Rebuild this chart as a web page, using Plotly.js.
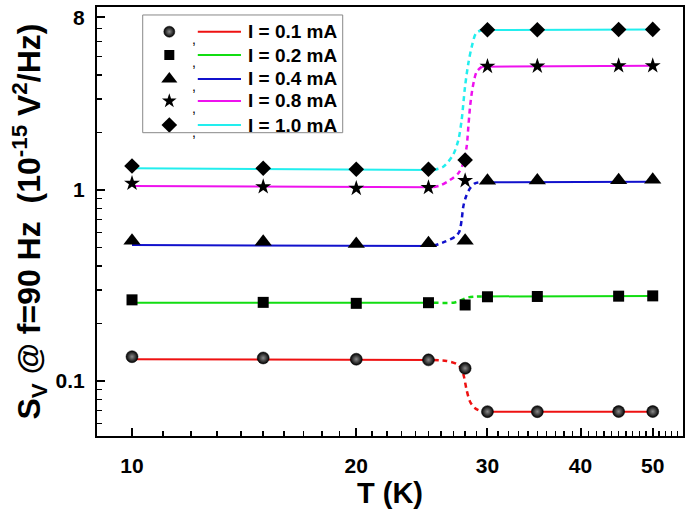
<!DOCTYPE html>
<html>
<head>
<meta charset="utf-8">
<script src="https://cdn.plot.ly/plotly-3.0.1.min.js"></script>
<style>html,body{margin:0;padding:0;background:#fff;}#chart{width:685px;height:513px;}</style>
</head>
<body>
<div id="chart"></div>
<script>
// ---------- data ----------
const seriesNames = ["I = 0.1 mA", "I = 0.2 mA", "I = 0.4 mA", "I = 0.8 mA", "I = 1.0 mA"];
const T_markers = [10, 15, 20, 25, 28, 30, 35, 45, 50];
const sv_01 = [0.134, 0.132, 0.130, 0.129, 0.1166, 0.0691, 0.0691, 0.0692, 0.0692];
const sv_02 = [0.266, 0.258, 0.255, 0.257, 0.250, 0.276, 0.277, 0.278, 0.279];
const sv_04 = [0.543, 0.536, 0.522, 0.526, 0.543, 1.118, 1.12, 1.125, 1.13];
const sv_08 = [1.084, 1.04, 1.02, 1.03, 1.12, 4.44, 4.45, 4.47, 4.47];
const sv_10 = [1.336, 1.30, 1.283, 1.283, 1.436, 6.90, 6.90, 6.92, 6.93];

// solid fit lines (low-T and high-T plateaus)
const fitLeftT = [10, 25.4];
const fitRightT = [29.5, 50];
const fitLeft_01 = [0.1298, 0.1288], fitRight_01 = [0.0691, 0.0690];
const fitLeft_02 = [0.257, 0.257],   fitRight_02 = [0.277, 0.279];
const fitLeft_04 = [0.515, 0.509],   fitRight_04 = [1.097, 1.105];
const fitLeft_08 = [1.05, 1.035],    fitRight_08 = [4.42, 4.47];
const fitLeft_10 = [1.30, 1.273],    fitRight_10 = [6.88, 6.93];

// dashed transition curves
const trT_01 = [25.38, 26.45, 27.28, 27.70, 27.9, 28.13, 28.43, 28.87, 29.48];
const trV_01 = [0.1288, 0.1273, 0.1227, 0.1151, 0.1053, 0.0897, 0.0779, 0.0720, 0.0691];
const trT_02 = [25.38, 27.0, 27.56, 28.28, 29.48];
const trV_02 = [0.257, 0.257, 0.263, 0.274, 0.277];
const trT_04 = [25.38, 26.31, 27.14, 27.5, 27.70, 27.84, 28.07, 28.43, 28.87, 29.32];
const trV_04 = [0.509, 0.536, 0.569, 0.605, 0.697, 0.818, 0.922, 1.021, 1.084, 1.097];
const trT_08 = [25.4, 26.0, 26.72, 27.42, 27.84, 28.13, 28.28, 28.43, 28.67, 29.02, 29.48];
const trV_08 = [1.035, 1.06, 1.128, 1.223, 1.38, 1.686, 2.145, 2.731, 3.474, 4.164, 4.42];
const trT_10 = [25.38, 26.17, 26.97, 27.42, 27.70, 27.99, 28.28, 28.58, 28.96, 29.48];
const trV_10 = [1.273, 1.324, 1.525, 1.827, 2.326, 3.474, 4.607, 5.627, 6.613, 6.88];

// ticks
const xTickVals = [10, 20, 30, 40, 50];
const xTickText = ["10", "20", "30", "40", "50"];
const xMinorVals = [9, 11, 12, 13, 14, 15, 16, 17, 18, 19, 21, 22, 23, 24, 25, 26, 27, 28, 29,
  31, 32, 33, 34, 35, 36, 37, 38, 39, 41, 42, 43, 44, 45, 46, 47, 48, 49, 51, 52, 53, 54];
const yTickVals = [0.1, 1, 8];
const yTickText = ["0.1", "1", "8"];
const yMinorVals = [0.06, 0.07, 0.08, 0.09, 0.2, 0.3, 0.4, 0.5, 0.6, 0.7, 0.8, 0.9, 2, 3, 4, 5, 6, 7, 9];

// ---------- styling ----------
const FONT = "Liberation Sans, Arial, Helvetica, sans-serif";
const colors = ["#ee1111", "#11dd11", "#1111cc", "#ee11ee", "#22eeee"];
const symbols = ["circle", "square", "triangle-up", "star", "diamond"];
const sizes = [12, 11, 15, 12, 12];
const legSizes = [11, 10, 14, 11, 12];
const markerSets = [sv_01, sv_02, sv_04, sv_08, sv_10];
const fitL = [fitLeft_01, fitLeft_02, fitLeft_04, fitLeft_08, fitLeft_10];
const fitR = [fitRight_01, fitRight_02, fitRight_04, fitRight_08, fitRight_10];
const trT = [trT_01, trT_02, trT_04, trT_08, trT_10];
const trV = [trV_01, trV_02, trV_04, trV_08, trV_10];

function markerStyle(i, s) {
  const m = {symbol: symbols[i], size: s, color: "#000", line: {width: 0}};
  if (i === 0) { m.gradient = {type: "radial", color: "#8a8a8a"}; m.line = {width: 0.5, color: "#000"}; }
  return m;
}

const traces = [];
for (let i = 0; i < 5; i++) {
  traces.push({x: fitLeftT, y: fitL[i], mode: "lines", line: {color: colors[i], width: 2}, showlegend: false, hoverinfo: "skip"});
  traces.push({x: fitRightT, y: fitR[i], mode: "lines", line: {color: colors[i], width: 2}, showlegend: false, hoverinfo: "skip"});
  traces.push({x: trT[i], y: trV[i], mode: "lines", line: {color: colors[i], width: 2.5, dash: "5px,4px", shape: "spline", smoothing: 0.8}, showlegend: false, hoverinfo: "skip"});
}
for (let i = 0; i < 5; i++) {
  traces.push({x: T_markers, y: markerSets[i], mode: "markers", name: seriesNames[i], marker: markerStyle(i, sizes[i]), showlegend: false});
}

// custom legend (marker , line  label) laid out in an overlay axis / paper coords
const legX0 = 0.078, legX1 = 0.4193, legY0 = 0.707, legY1 = 0.9814;
const rowY = [0.9424, 0.8881, 0.8322, 0.7809, 0.7249];
const symX = 0.1234, commaX = 0.1655, lineX0 = 0.172, lineX1 = 0.2457, textX = 0.2543;
const shapes = [{type: "rect", xref: "paper", yref: "paper", x0: legX0, x1: legX1, y0: legY0, y1: legY1,
  line: {color: "#888", width: 1}, fillcolor: "rgba(255,255,255,0)"}];
const annotations = [];
for (let i = 0; i < 5; i++) {
  traces.push({x: [symX], y: [rowY[i]], xaxis: "x2", yaxis: "y2", mode: "markers", marker: markerStyle(i, legSizes[i]), showlegend: false, hoverinfo: "skip"});
  shapes.push({type: "line", xref: "paper", yref: "paper", x0: lineX0, x1: lineX1, y0: rowY[i], y1: rowY[i], line: {color: colors[i], width: 2}});
  annotations.push({xref: "paper", yref: "paper", x: commaX, y: rowY[i] + 0.006, xanchor: "center", yanchor: "top",
    text: ",", showarrow: false, font: {family: FONT, size: 14, color: "#000"}});
  annotations.push({xref: "paper", yref: "paper", x: textX, y: rowY[i], xanchor: "left", yanchor: "middle",
    text: "<b>" + seriesNames[i] + "</b>", showarrow: false, font: {family: FONT, size: 19, color: "#000"}});
}

const layout = {
  width: 685, height: 513,
  margin: {l: 97, r: 2, t: 7, b: 77, pad: 0},
  paper_bgcolor: "#fff", plot_bgcolor: "#fff",
  font: {family: FONT, color: "#000"},
  showlegend: false,
  xaxis: {
    type: "log", range: [0.953, 1.7396],
    tickmode: "array", tickvals: xTickVals, ticktext: xTickText,
    ticks: "inside", ticklen: 8, tickwidth: 2, tickcolor: "#000",
    minor: {tickmode: "array", tickvals: xMinorVals, ticks: "inside", ticklen: 5, tickwidth: 1.5, tickcolor: "#000", showgrid: false},
    showgrid: false, zeroline: false,
    showline: true, mirror: true, linecolor: "#000", linewidth: 2,
    tickfont: {family: FONT, size: 21, color: "#000", weight: "bold"},
    ticklabelstandoff: 10,
    title: {text: "<b>T (K)</b>", font: {family: FONT, size: 29, color: "#000"}, standoff: 2}
  },
  yaxis: {
    type: "log", range: [-1.288, 0.958],
    tickmode: "array", tickvals: yTickVals, ticktext: yTickText,
    ticks: "inside", ticklen: 8, tickwidth: 2, tickcolor: "#000",
    minor: {tickmode: "array", tickvals: yMinorVals, ticks: "inside", ticklen: 5, tickwidth: 1.5, tickcolor: "#000", showgrid: false},
    showgrid: false, zeroline: false,
    showline: true, mirror: true, linecolor: "#000", linewidth: 2,
    tickfont: {family: FONT, size: 21, color: "#000", weight: "bold"},
    ticklabelstandoff: 6,
    title: {text: "<b>S<sub>V</sub> @ f=90 Hz\u00a0\u00a0(10<sup>-15</sup> V<sup>2</sup>/Hz)</b>", font: {family: FONT, size: 32, color: "#000"}, standoff: 5}
  },
  xaxis2: {overlaying: "x", range: [0, 1], visible: false, fixedrange: true},
  yaxis2: {overlaying: "y", range: [0, 1], visible: false, fixedrange: true},
  shapes: shapes,
  annotations: annotations
};

Plotly.newPlot("chart", traces, layout, {staticPlot: true, displayModeBar: false});
</script>
</body>
</html>
